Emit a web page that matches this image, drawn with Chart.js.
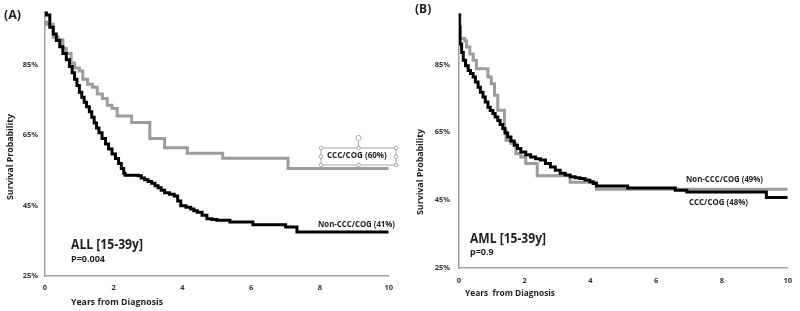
<!DOCTYPE html>
<html>
<head>
<meta charset="utf-8">
<script src="https://cdn.jsdelivr.net/npm/chart.js@4"></script>
<style>
html,body{margin:0;padding:0;background:#fff;}
#wrap{position:relative;width:800px;height:311px;overflow:hidden;}
canvas{position:absolute;top:0;}
#cA{left:0;}
#cB{left:400px;}
</style>
</head>
<body>
<div id="wrap">
<canvas id="cA" width="400" height="311"></canvas>
<canvas id="cB" width="400" height="311"></canvas>
</div>
<script>
// ---- data ----
const xTicks = [0, 2, 4, 6, 8, 10];
const yTicks = [25, 45, 65, 85];

// Panel A: ALL [15-39y]
const aCccT = [0, 0.05, 0.24, 0.38, 0.52, 0.62, 0.76, 0.86, 1.0, 1.1, 1.24, 1.38, 1.52, 1.67, 1.81, 1.95, 2.1, 2.52, 3.05, 3.48, 4.14, 5.17, 7.07, 10];
const aCccS = [97, 96.4, 92.7, 92, 89.5, 88.1, 85.4, 84, 83.1, 80.8, 79.4, 78.5, 76.6, 75.3, 73.4, 72.5, 70.4, 68.5, 64, 61.4, 59.8, 58.4, 55.5, 55.5];
const aNonT = [0, 0.04, 0.14, 0.24, 0.33, 0.43, 0.52, 0.62, 0.71, 0.79, 0.86, 0.93, 1.0, 1.07, 1.14, 1.21, 1.29, 1.36, 1.43, 1.5, 1.57, 1.66, 1.76, 1.85, 1.95, 2.05, 2.14, 2.22, 2.29, 2.33, 2.71, 2.8, 2.9, 3.0, 3.1, 3.2, 3.29, 3.38, 3.48, 3.62, 3.76, 3.86, 3.95, 4.1, 4.24, 4.33, 4.43, 4.57, 4.71, 4.85, 5.0, 5.38, 6.05, 7.0, 7.33, 10];
const aNonS = [100, 99, 95.5, 93.6, 91.8, 90, 88.1, 86.3, 84.4, 82.6, 80.8, 79, 77.1, 75.7, 74.3, 73, 71.6, 70, 68.4, 67, 65.6, 64, 62.4, 61, 59.6, 58.3, 56.9, 55.5, 54.1, 53.6, 53.4, 52.8, 52.3, 51.8, 51.3, 50.6, 50, 49.3, 48.6, 48.2, 47.7, 46.3, 44.9, 44.5, 44, 43.5, 43.1, 42.2, 41.2, 41, 40.8, 40.3, 39.5, 38.9, 37.5, 37.5];

// Panel B: AML [15-39y]
const bGrayT = [0, 0.03, 0.18, 0.23, 0.33, 0.43, 0.53, 0.88, 0.98, 1.08, 1.18, 1.38, 1.43, 1.58, 1.73, 1.88, 2.03, 2.38, 3.38, 4.18, 10];
const bGrayS = [100, 92.6, 92, 90.1, 88.1, 86.2, 83.7, 81.3, 79.3, 75.9, 71.5, 65.6, 62.6, 61.7, 58.7, 57.7, 55.8, 52.2, 50.3, 48.2, 48.2];
const bBlackT = [0, 0.01, 0.03, 0.08, 0.13, 0.2, 0.28, 0.35, 0.43, 0.5, 0.58, 0.65, 0.73, 0.8, 0.88, 0.95, 1.03, 1.1, 1.18, 1.25, 1.33, 1.4, 1.48, 1.58, 1.68, 1.78, 1.88, 2.03, 2.18, 2.33, 2.48, 2.63, 2.78, 2.93, 3.08, 3.23, 3.38, 3.53, 3.68, 3.83, 3.98, 4.08, 4.18, 5.13, 6.58, 6.93, 9.35, 10];
const bBlackS = [100, 96, 91, 88.5, 86.2, 84.6, 83.2, 82.3, 81.3, 79.8, 78.3, 76.8, 75.4, 73.9, 72.4, 71.4, 70.5, 69.5, 68.5, 67.3, 66.1, 64.8, 63.6, 62.4, 61.2, 60.2, 59.2, 58.4, 57.7, 57.2, 56.8, 55.8, 54.8, 53.8, 52.9, 52.4, 51.9, 51.6, 51.4, 50.9, 50.4, 49.9, 49.2, 48.6, 47.9, 47.4, 45.8, 45.8];

const FONT = "'Open Sans', 'Noto Sans', sans-serif";
const TXT = '#1e1e1e';
const GRAY = '#9c9c9c';
const AXIS = '#a0a0a0';

function xy(t, s) { return t.map((v, i) => ({ x: v, y: s[i] })); }

function makeChart(id, datasets, geo, texts) {
  const textPlugin = {
    id: 'texts',
    afterDraw(chart) { texts(chart.ctx, chart); }
  };
  return new Chart(document.getElementById(id), {
    type: 'line',
    data: { datasets },
    options: {
      responsive: false,
      animation: false,
      events: [],
      layout: { autoPadding: false, padding: { left: 0, right: geo.right, top: geo.top, bottom: 0 } },
      plugins: { legend: { display: false }, tooltip: { enabled: false } },
      elements: { point: { radius: 0 }, line: { tension: 0 } },
      scales: {
        x: {
          type: 'linear', min: 0, max: 10,
          afterBuildTicks: s => { s.ticks = xTicks.map(v => ({ value: v })); },
          afterFit: s => { s.height = geo.xh; },
          grid: { display: false, drawTicks: false },
          border: { display: true, color: AXIS, width: 1.5 },
          ticks: { padding: geo.xpad, maxRotation: 0, color: '#333', font: { family: FONT, size: 7.5, weight: 'bold' } }
        },
        y: {
          type: 'linear', min: 25, max: 100,
          afterBuildTicks: s => { s.ticks = yTicks.map(v => ({ value: v })); },
          afterFit: s => { s.width = geo.yw; },
          grid: { display: false, drawTicks: false },
          border: { display: true, color: AXIS, width: 1.5 },
          ticks: { padding: geo.ypad, color: '#333', font: { family: FONT, size: 7.5, weight: 'bold' }, callback: v => v + '%' }
        }
      }
    },
    plugins: [textPlugin]
  });
}

// bold text of a given size, squeezed horizontally (if needed) to span the given width
function txt(ctx, s, x, y, width, size, align, rot) {
  ctx.save();
  ctx.fillStyle = TXT;
  ctx.font = 'bold ' + size + 'px ' + FONT;
  const sx = Math.min(1, width / ctx.measureText(s).width);
  ctx.textBaseline = 'middle';
  ctx.textAlign = align || 'left';
  ctx.translate(x, y);
  if (rot) ctx.rotate(rot);
  ctx.scale(sx, 1);
  ctx.fillText(s, 0, 0);
  ctx.restore();
}

function handle(ctx, x, y) {
  ctx.beginPath();
  ctx.arc(x, y, 1.8, 0, Math.PI * 2);
  ctx.fillStyle = '#fff';
  ctx.fill();
  ctx.stroke();
}

makeChart('cA', [
  { label: 'Non-CCC/COG (41%)', data: xy(aNonT, aNonS), stepped: true, borderColor: '#000', borderWidth: 3 },
  { label: 'CCC/COG (60%)', data: xy(aCccT, aCccS), stepped: true, borderColor: GRAY, borderWidth: 3 }
], { right: 4, top: 4, xh: 35, yw: 45, xpad: 7, ypad: 7 }, (ctx, chart) => {
  txt(ctx, '(A)', 4, 15, 20, 12.5);
  txt(ctx, 'Survival Probability', 10, 157, 86, 9.5, 'center', -Math.PI / 2);
  txt(ctx, 'Years from Diagnosis', 71, 302, 92, 9.5);
  txt(ctx, 'ALL [15-39y]', 71, 245, 72, 14);
  txt(ctx, 'P=0.004', 71, 259, 36, 9);
  txt(ctx, 'Non-CCC/COG (41%)', 395, 225, 77, 8, 'right');
  // selected text box
  ctx.save();
  ctx.strokeStyle = '#a8a8a8';
  ctx.lineWidth = 1;
  const x0 = 321, x1 = 396, y0 = 148, y1 = 165, xm = (x0 + x1) / 2;
  ctx.strokeRect(x0, y0, x1 - x0, y1 - y0);
  ctx.beginPath(); ctx.moveTo(xm, y0); ctx.lineTo(xm, 139); ctx.stroke();
  [[x0, y0], [xm, y0], [x1, y0], [x0, (y0 + y1) / 2], [x1, (y0 + y1) / 2], [x0, y1], [xm, y1], [x1, y1]].forEach(p => handle(ctx, p[0], p[1]));
  ctx.beginPath(); ctx.arc(xm, 138, 2.6, 0, Math.PI * 2); ctx.fillStyle = '#fff'; ctx.fill(); ctx.stroke();
  ctx.restore();
  txt(ctx, 'CCC/COG (60%)', 327, 156, 61, 8);
});

makeChart('cB', [
  { label: 'CCC/COG (48%)', data: xy(bBlackT, bBlackS), stepped: true, borderColor: '#000', borderWidth: 3 },
  { label: 'Non-CCC/COG (49%)', data: xy(bGrayT, bGrayS), stepped: true, borderColor: GRAY, borderWidth: 3 }
], { right: 8, top: 13, xh: 43, yw: 59, xpad: 8, ypad: 9 }, (ctx, chart) => {
  txt(ctx, '(B)', 15, 10, 17, 12);
  txt(ctx, 'Survival Probability', 20, 172, 86, 9.5, 'center', -Math.PI / 2);
  txt(ctx, 'Years  from Diagnosis', 65, 293, 90, 9.5);
  txt(ctx, 'AML [15-39y]', 70, 239, 76, 14);
  txt(ctx, 'p=0.9', 70, 252, 24, 9);
  txt(ctx, 'Non-CCC/COG (49%)', 286, 180, 77, 8);
  txt(ctx, 'CCC/COG (48%)', 289, 203, 59, 8);
});
</script>
</body>
</html>
